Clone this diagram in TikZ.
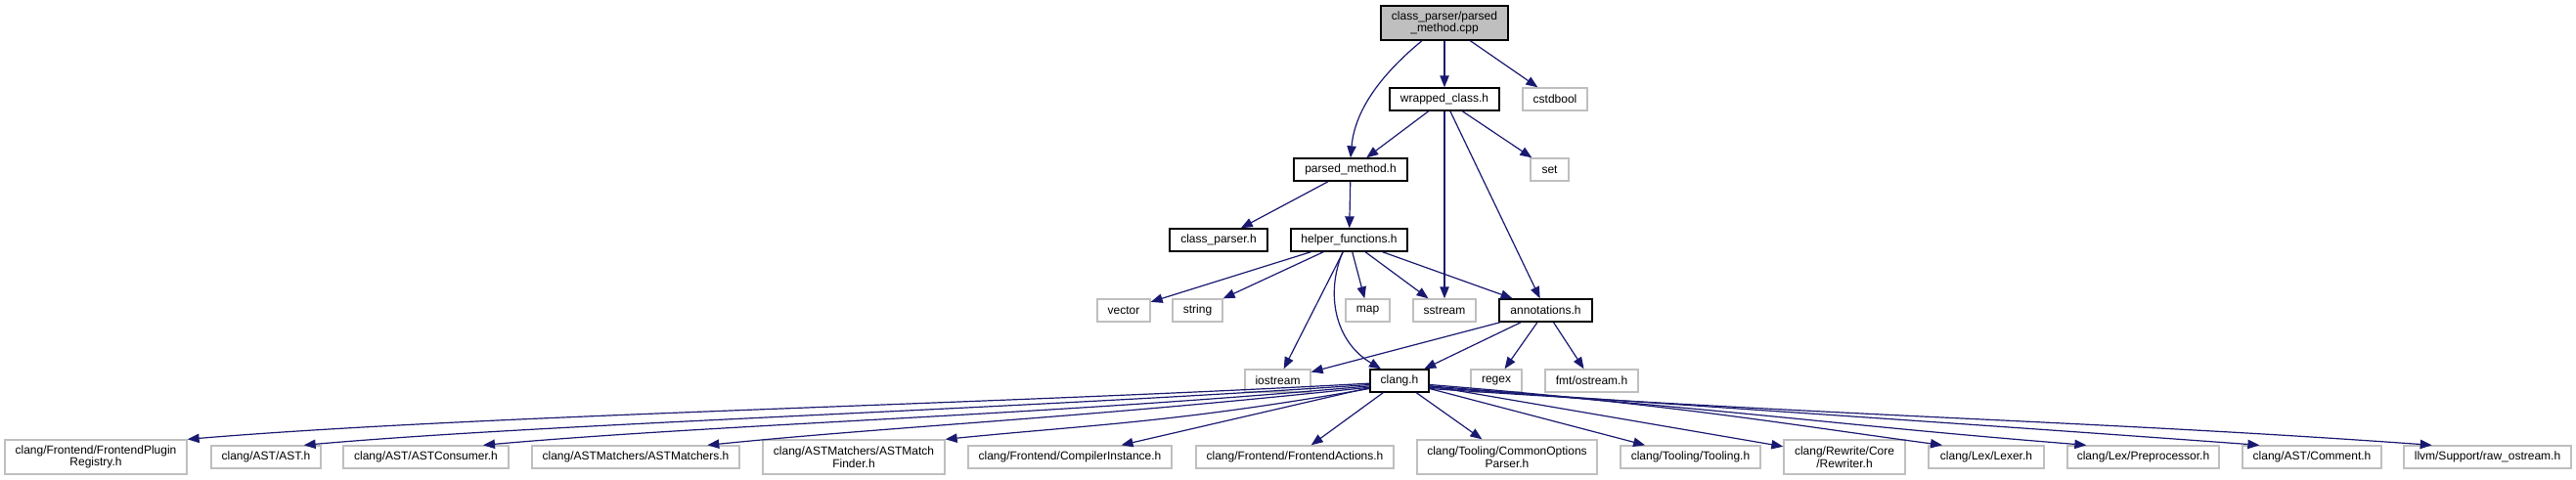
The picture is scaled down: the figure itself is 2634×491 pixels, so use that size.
\documentclass[tikz,border=0pt]{standalone}
\usepackage{fontspec}
\setmainfont{Liberation Sans}
\usepackage{xcolor}
\usepackage{tikz}
\usetikzlibrary{arrows.meta}
\definecolor{DGEdge}{HTML}{191970}
\definecolor{DGGrey}{HTML}{BFBFBF}
\definecolor{DGRoot}{HTML}{BFBFBF}
\tikzset{
  inc/.style={draw=black, fill=white, line width=1pt, inner sep=0pt, minimum height=17.25pt, align=center, font=\fontsize{9}{9.5}\selectfont},
  sysinc/.style={inc, draw=DGGrey},
  twoline/.style={minimum height=26.25pt},
  dep/.style={draw=DGEdge, line width=0.9pt, -{Triangle[length=9pt,width=7pt]}, fill=none}
}
\begin{document}
\begin{tikzpicture}[x=0.75pt,y=-0.75pt]
\path[use as bounding box] (0,0) rectangle (2634,491);
\node[inc, twoline, fill=DGRoot, minimum width=97.5pt] (root) at (1477,23.5) {class\_parser/parsed\\\_method.cpp};
\node[inc, minimum width=84pt] (wc) at (1477,101.5) {wrapped\_class.h};
\node[sysinc, minimum width=49.5pt] (cstdbool) at (1590,101.5) {cstdbool};
\node[inc, minimum width=87pt] (pm) at (1381,173.5) {parsed\_method.h};
\node[sysinc, minimum width=29.25pt] (set) at (1584.5,173.5) {set};
\node[inc, minimum width=75pt] (cp) at (1246,245.5) {class\_parser.h};
\node[inc, minimum width=89.25pt] (hf) at (1379.5,245.5) {helper\_functions.h};
\node[sysinc, minimum width=40.5pt] (vector) at (1149,317.5) {vector};
\node[sysinc, minimum width=38.25pt] (string) at (1224.5,317.5) {string};
\node[sysinc, minimum width=33.75pt] (map) at (1398.5,317.5) {map};
\node[sysinc, minimum width=48pt] (sstream) at (1477,317.5) {sstream};
\node[inc, minimum width=71.25pt] (ann) at (1580.5,317.5) {annotations.h};
\node[sysinc, minimum width=50.25pt] (iostream) at (1306.5,389.5) {iostream};
\node[inc, minimum width=45pt] (clang) at (1431,389.5) {clang.h};
\node[sysinc, minimum width=39pt] (regex) at (1530,389.5) {regex};
\node[sysinc, minimum width=71.25pt] (fmt) at (1627.5,389.5) {fmt/ostream.h};
\node[sysinc, twoline, minimum width=139.5pt] (fpr) at (98,467.5) {clang/Frontend/FrontendPlugin\\Registry.h};
\node[sysinc, minimum width=84pt] (ast) at (272,467.5) {clang/AST/AST.h};
\node[sysinc, minimum width=126.75pt] (astc) at (435.5,467.5) {clang/AST/ASTConsumer.h};
\node[sysinc, minimum width=159pt] (astm) at (650,467.5) {clang/ASTMatchers/ASTMatchers.h};
\node[sysinc, twoline, minimum width=139.5pt] (amf) at (873,467.5) {clang/ASTMatchers/ASTMatch\\Finder.h};
\node[sysinc, minimum width=156pt] (ci) at (1094,467.5) {clang/Frontend/CompilerInstance.h};
\node[sysinc, minimum width=151.5pt] (fa) at (1324,467.5) {clang/Frontend/FrontendActions.h};
\node[sysinc, twoline, minimum width=138pt] (cop) at (1541,467.5) {clang/Tooling/CommonOptions\\Parser.h};
\node[sysinc, minimum width=107.25pt] (tool) at (1728.5,467.5) {clang/Tooling/Tooling.h};
\node[sysinc, twoline, minimum width=93pt] (rw) at (1886,467.5) {clang/Rewrite/Core\\/Rewriter.h};
\node[sysinc, minimum width=88.5pt] (lex) at (2031,467.5) {clang/Lex/Lexer.h};
\node[sysinc, minimum width=116.25pt] (pre) at (2191.5,467.5) {clang/Lex/Preprocessor.h};
\node[sysinc, minimum width=106.5pt] (cmt) at (2364,467.5) {clang/AST/Comment.h};
\node[sysinc, minimum width=128.25pt] (raw) at (2543.5,467.5) {llvm/Support/raw\_ostream.h};
\draw[dep] ([xshift=-17.25pt]root.south) .. controls +(-29,24) and +(5,-57) .. (pm.north);
\draw[dep] (root) -- (wc);
\draw[dep] (root) -- (cstdbool);
\draw[dep] (wc) -- (pm);
\draw[dep] (wc) -- (sstream);
\draw[dep] (wc) -- (ann);
\draw[dep] (wc) -- (set);
\draw[dep] (pm) -- (cp);
\draw[dep] (pm) -- (hf);
\draw[dep] (hf) -- (vector);
\draw[dep] (hf) -- (string);
\draw[dep] (hf) -- (iostream);
\draw[dep] ([xshift=-4.9pt]hf.south) .. controls +(-18,43) and +(-47,-28) .. ([xshift=-14.25pt]clang.north);
\draw[dep] (hf) -- (map);
\draw[dep] (hf) -- (sstream);
\draw[dep] (hf) -- (ann);
\draw[dep] (ann) -- (iostream);
\draw[dep] (ann) -- (clang);
\draw[dep] (ann) -- (regex);
\draw[dep] (ann) -- (fmt);
\draw[dep] ([yshift=-2pt]clang.west) .. controls +(-400,22) and +(300,-25) .. (fpr.north east);
\draw[dep] ([yshift=-3pt]clang.west) .. controls +(-380,26) and +(250,-22) .. ([xshift=-13.5pt]ast.north east);
\draw[dep] ([yshift=-4pt]clang.west) .. controls +(-330,30) and +(250,-22) .. ([xshift=-20pt]astc.north east);
\draw[dep] ([yshift=-5pt]clang.west) .. controls +(-300,32) and +(200,-20) .. ([xshift=-25pt]astm.north east);
\draw[dep] ([yshift=-6pt]clang.west) .. controls +(-200,35) and +(150,-15) .. (amf.north east);
\draw[dep] (clang) -- (ci);
\draw[dep] (clang) -- (fa);
\draw[dep] (clang) -- (cop);
\draw[dep] (clang) -- (tool);
\draw[dep] (clang) -- (rw);
\draw[dep] ([yshift=-3pt]clang.east) .. controls +(250,20) and +(-150,-20) .. ([xshift=11pt]lex.north west);
\draw[dep] ([yshift=-4pt]clang.east) .. controls +(350,28) and +(-250,-20) .. ([xshift=15pt]pre.north west);
\draw[dep] ([yshift=-5pt]clang.east) .. controls +(400,28) and +(-300,-22) .. ([xshift=13.5pt]cmt.north west);
\draw[dep] ([yshift=-6pt]clang.east) .. controls +(450,30) and +(-350,-25) .. ([xshift=22pt]raw.north west);
\end{tikzpicture}
\end{document}
